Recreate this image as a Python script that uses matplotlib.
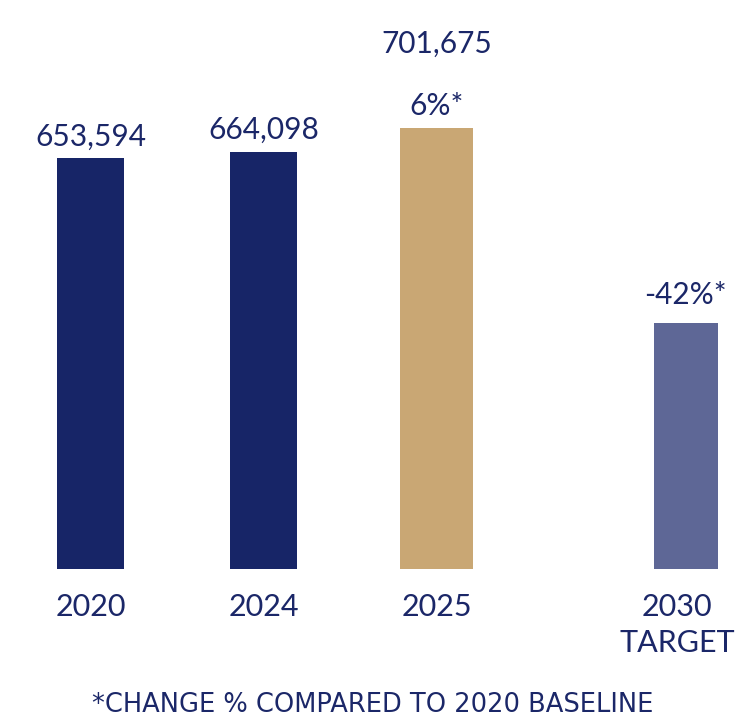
import matplotlib
matplotlib.use("Agg")
import matplotlib.pyplot as plt

# Emissions by year (tCO2e) and change vs. 2020 baseline
categories = ["2020", "2024", "2025", "2030\nTARGET"]
values = [653594, 664098, 701675, 392000]
value_labels = ["653,594", "664,098", "701,675", None]
change_labels = [None, None, "6%*", "-42%*"]
footnote = "*CHANGE % COMPARED TO 2020 BASELINE"

NAVY = "#172567"
GOLD = "#c9a774"
LAVENDER = "#5e6796"
TEXT = "#1b2768"

colors = [NAVY, NAVY, GOLD, LAVENDER]
positions = [0, 1, 2, 3.442]
widths = [0.387, 0.387, 0.422, 0.37]
change_gap = [13, 13, 13, 19]

fig = plt.figure(figsize=(7.38, 7.21), dpi=100)
ax = fig.add_axes([0, 0, 1, 1])
ax.set_xlim(-0.523, 3.743)
px = 1592.0  # data units per pixel vertically
ax.set_ylim(-152 * px, (721 - 152) * px)
ax.axis("off")

ax.bar(positions, values, width=widths, color=colors, zorder=2)

font = "Lato"
for x, v, lab, chg, gap in zip(positions, values, value_labels, change_labels, change_gap):
    if chg is not None:
        ax.text(x, v + gap * px, chg, ha="center", va="baseline",
                fontsize=21.5, color=TEXT, family=font)
        if lab is not None:
            ax.text(x, v + 75 * px, lab, ha="center", va="baseline",
                    fontsize=21.5, color=TEXT, family=font)
    elif lab is not None:
        ax.text(x, v + 13 * px, lab, ha="center", va="baseline",
                fontsize=21.5, color=TEXT, family=font)

for x, c in zip(positions, categories):
    if "\n" in c:
        # keep the two-line label inside the right edge of the figure
        ax.text(0.996, -24 * px, c, ha="right", va="top", fontsize=22,
                color=TEXT, family=font, linespacing=1.35,
                multialignment="center",
                transform=ax.get_yaxis_transform())
    else:
        ax.text(x, -24 * px, c, ha="center", va="top", fontsize=22,
                color=TEXT, family=font, linespacing=1.35)

fig.text(0.505, 1 - 712 / 721, footnote, ha="center", va="baseline",
         fontsize=18.5, color=TEXT, family="Liberation Sans Narrow")

fig.savefig("out.png", dpi=100)
